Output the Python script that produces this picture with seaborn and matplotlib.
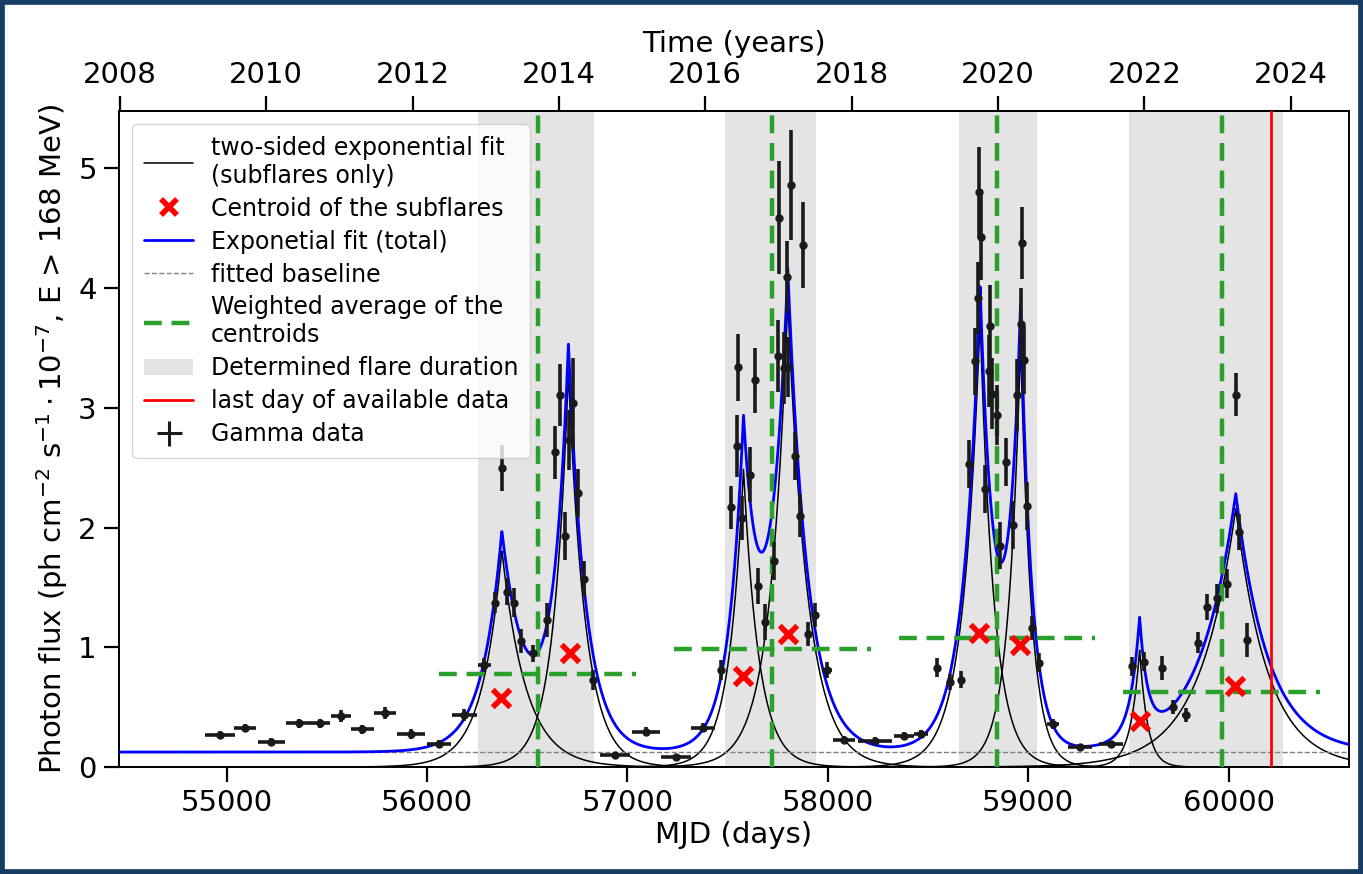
import numpy as np
import matplotlib
matplotlib.use("Agg")
import matplotlib.pyplot as plt
from matplotlib.patches import Rectangle, Patch
from matplotlib.lines import Line2D
import seaborn as sns

# ---------------- data ----------------
mjd = [54965, 55093, 55223, 55358, 55465, 55569, 55676, 55790, 55920, 56061, 56185,
       56285, 56340, 56373, 56398, 56436, 56468, 56528, 56598, 56636, 56664, 56689,
       56706, 56728, 56752, 56785, 56830, 56939, 57091, 57244, 57379, 57467,
       57517, 57546, 57554, 57574, 57609, 57634, 57651, 57687, 57729, 57750, 57757,
       57780, 57795, 57803, 57817, 57834, 57859, 57875, 57903, 57937, 57995,
       58080, 58234, 58378, 58464, 58544, 58608, 58667,
       58705, 58732, 58748, 58755, 58765, 58785, 58805, 58810, 58818, 58843, 58860,
       58890, 58923, 58943, 58963, 58968, 58980, 58993, 59021, 59054, 59124, 59257,
       59414, 59518, 59578, 59668, 59721, 59789, 59849, 59894, 59941, 59994, 60036,
       60053, 60091]
flux = [0.268, 0.33, 0.21, 0.365, 0.365, 0.425, 0.315, 0.448, 0.274, 0.193, 0.434,
        0.853, 1.374, 2.497, 1.466, 1.374, 1.056, 0.95, 1.23, 2.63, 3.11, 1.93,
        2.73, 3.04, 2.29, 1.57, 0.727, 0.097, 0.295, 0.08, 0.33, 0.81,
        2.17, 2.68, 3.34, 2.08, 2.44, 3.23, 1.51, 1.21, 1.72, 3.43, 4.59,
        3.33, 4.09, 3.34, 4.86, 2.60, 2.10, 4.36, 1.11, 1.27, 0.81,
        0.226, 0.218, 0.26, 0.276, 0.829, 0.71, 0.73,
        2.53, 3.39, 3.92, 4.80, 4.43, 2.32, 3.31, 3.68, 3.12, 2.94, 1.85,
        2.55, 2.02, 3.11, 3.70, 4.38, 3.40, 2.18, 1.16, 0.87, 0.36, 0.17,
        0.19, 0.84, 0.88, 0.83, 0.50, 0.434, 1.04, 1.335, 1.41, 1.53, 3.11,
        1.96, 1.06]
flux_err = [0.03, 0.03, 0.03, 0.04, 0.04, 0.05, 0.04, 0.05, 0.04, 0.03, 0.05,
            0.06, 0.09, 0.19, 0.11, 0.12, 0.10, 0.07, 0.14, 0.22, 0.26, 0.20,
            0.25, 0.38, 0.20, 0.15, 0.08, 0.02, 0.04, 0.02, 0.04, 0.08,
            0.18, 0.26, 0.28, 0.18, 0.23, 0.27, 0.15, 0.15, 0.16, 0.30, 0.47,
            0.30, 0.30, 0.25, 0.46, 0.20, 0.18, 0.36, 0.10, 0.10, 0.07,
            0.03, 0.03, 0.03, 0.03, 0.08, 0.07, 0.07,
            0.20, 0.28, 0.30, 0.38, 0.36, 0.20, 0.30, 0.35, 0.30, 0.25, 0.20,
            0.20, 0.20, 0.30, 0.30, 0.30, 0.28, 0.20, 0.10, 0.08, 0.04, 0.02,
            0.03, 0.08, 0.08, 0.10, 0.06, 0.06, 0.09, 0.11, 0.12, 0.12, 0.18,
            0.15, 0.14]
mjd_err = [75, 55, 69, 63, 52, 50, 57, 55, 70, 60, 62,
           33, 10, 6, 8, 8, 8, 20, 10, 8, 6, 6,
           6, 6, 6, 8, 15, 75, 70, 75, 60, 15,
           6, 6, 6, 6, 6, 6, 6, 6, 6, 6, 5,
           5, 5, 5, 5, 5, 6, 6, 8, 8, 25,
           55, 85, 50, 35, 10, 15, 15,
           5, 5, 4, 4, 4, 5, 4, 4, 4, 5, 5,
           5, 5, 5, 4, 4, 4, 5, 5, 8, 30, 60,
           60, 12, 12, 10, 15, 20, 8, 6, 6, 6, 5,
           5, 5]

# subflare fit parameters (two-sided exponential)
sub_t0 = [56373, 56705, 57579, 57800, 58760, 58962, 59556, 60036]
sub_amp = [1.81, 3.30, 2.49, 3.90, 3.75, 3.55, 0.98, 2.16]
sub_rise = [100, 75, 73, 89, 85, 62, 45, 180]
sub_decay = [120, 85, 77, 100, 70, 55, 40, 160]
baseline = 0.125

centroid_mjd = [56371, 56711, 57578, 57802, 58755, 58959, 59557, 60032]
centroid_flux = [0.58, 0.95, 0.757, 1.11, 1.116, 1.02, 0.386, 0.674]

wavg_mjd = [56551, 57722, 58844, 59965]
wavg_level = [0.78, 0.99, 1.075, 0.625]
wavg_halfwidth = [491, 491, 491, 491]

flare_start = [56256, 57487, 58656, 59505]
flare_end = [56831, 57943, 59044, 60274]

last_day = 60211
year_ticks = [2008, 2010, 2012, 2014, 2016, 2018, 2020, 2022, 2024]

# ---------------- plot ----------------
sns.set_theme(style="ticks")
plt.rcParams['font.family'] = ['DejaVu Sans']
for k in ['text.color', 'axes.labelcolor', 'xtick.color', 'ytick.color', 'axes.edgecolor']:
    plt.rcParams[k] = 'black'

fig = plt.figure(figsize=(13.63, 8.74), dpi=100)
ax = fig.add_axes([0.0873, 0.1224, 0.9024, 0.7506])

xmin, xmax = 54462, 60601
ax.set_xlim(xmin, xmax)
ax.set_ylim(0, 5.48)

for s, e in zip(flare_start, flare_end):
    ax.axvspan(s, e, color='lightgray', alpha=0.6, lw=0, zorder=0)

t = np.linspace(xmin, xmax, 6000)
total = np.full_like(t, baseline)
for t0, a, tr, td in zip(sub_t0, sub_amp, sub_rise, sub_decay):
    f = np.where(t < t0, a * np.exp((t - t0) / tr), a * np.exp(-(t - t0) / td))
    total = total + f
    ax.plot(t, f, color='black', lw=1.1, zorder=2)

ax.axhline(baseline, color='gray', ls='--', lw=1.0, zorder=2)
sns.lineplot(x=t, y=total, color='blue', lw=2.0, ax=ax, zorder=3)

green_ls = (0, (4, 2.2))
for m, lvl, hw in zip(wavg_mjd, wavg_level, wavg_halfwidth):
    ax.axvline(m, color='tab:green', ls=green_ls, lw=3.2, zorder=3)
    ax.plot([m - hw, m + hw], [lvl, lvl], color='tab:green', ls=green_ls, lw=3.2, zorder=3)

ax.axvline(last_day, color='red', lw=2.0, zorder=3)

ax.errorbar(mjd, flux, yerr=flux_err, xerr=mjd_err, fmt='o', color='#1a1a1a',
            ms=5, elinewidth=2.6, capsize=0, zorder=4)

sns.scatterplot(x=centroid_mjd, y=centroid_flux, marker='x', color='red', s=160,
                linewidth=4, ax=ax, zorder=5)

# axes styling
fs = 21
ax.set_xlabel('MJD (days)', fontsize=fs, labelpad=3)
ax.set_ylabel(r'Photon flux (ph cm$^{-2}$ s$^{-1}\cdot10^{-7}$, E > 168 MeV)', fontsize=fs, labelpad=6)
ax.set_xticks([55000, 56000, 57000, 58000, 59000, 60000])
ax.set_yticks([0, 1, 2, 3, 4, 5])
ax.tick_params(axis='both', labelsize=fs, length=11, width=1.6, pad=5)
for sp in ax.spines.values():
    sp.set_visible(True)
    sp.set_linewidth(1.4)
    sp.set_color('black')


def mjd2year(x):
    return 2000.0 + (np.asarray(x) - 51544.5) / 365.25


def year2mjd(y):
    return 51544.5 + (np.asarray(y) - 2000.0) * 365.25


sec = ax.secondary_xaxis('top', functions=(mjd2year, year2mjd))
sec.set_xticks(year_ticks)
sec.tick_params(labelsize=fs, length=11, width=1.6, pad=5)
sec.set_xlabel('Time (years)', fontsize=fs, labelpad=6)

handles = [
    Line2D([], [], color='black', lw=1.1),
    Line2D([], [], color='red', marker='x', ls='none', ms=11, mew=4),
    Line2D([], [], color='blue', lw=2.0),
    Line2D([], [], color='gray', ls='--', lw=1.0),
    Line2D([], [], color='tab:green', ls=green_ls, lw=3.2),
    Patch(facecolor='lightgray', alpha=0.6, edgecolor='none'),
    Line2D([], [], color='red', lw=2.0),
    Line2D([], [], color='#1a1a1a', marker='+', ls='none', ms=18, mew=2.2),
]
labels = ['two-sided exponential fit\n(subflares only)', 'Centroid of the subflares',
          'Exponetial fit (total)', 'fitted baseline', 'Weighted average of the\ncentroids',
          'Determined flare duration', 'last day of available data', 'Gamma data']
leg = ax.legend(handles, labels, loc='upper left', fontsize=17, frameon=True,
                borderaxespad=0.55, handlelength=2.1, handletextpad=0.75,
                labelspacing=0.38, borderpad=0.5)

fig.patches.append(Rectangle((0, 0), 1, 1, transform=fig.transFigure, fill=False,
                             edgecolor='#163e64', linewidth=7, zorder=10))

fig.savefig('out.png', dpi=100)
